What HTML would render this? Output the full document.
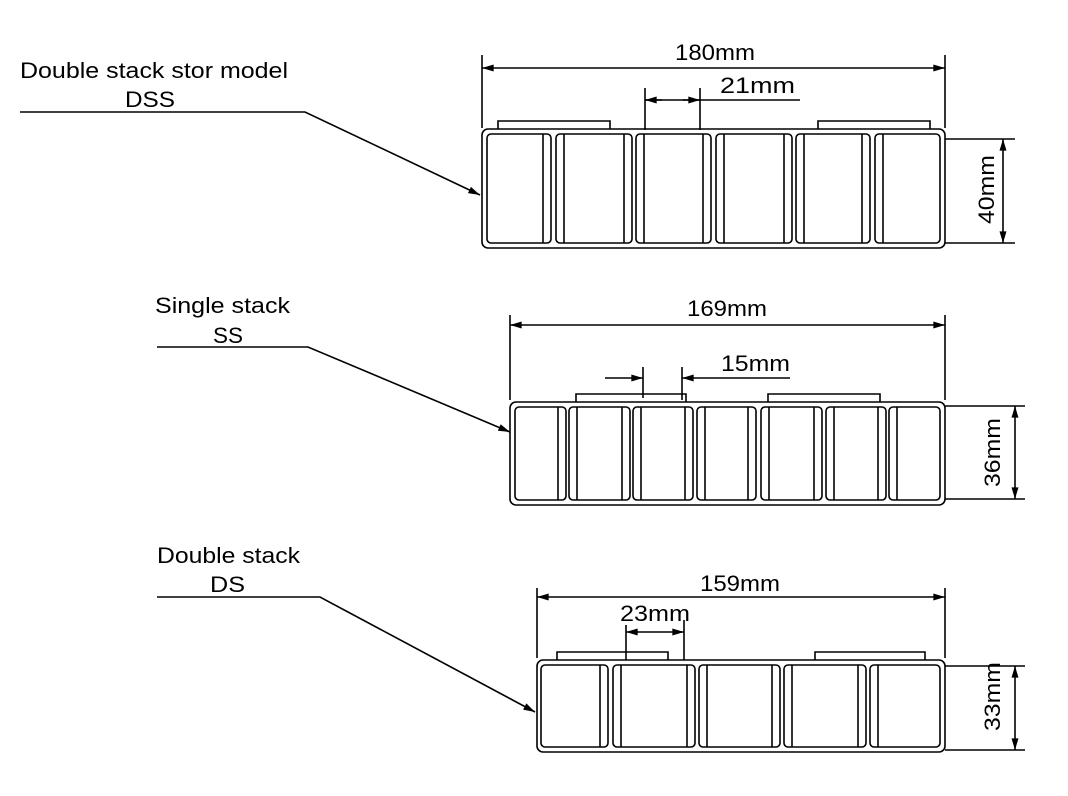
<!DOCTYPE html>
<html><head><meta charset="utf-8"><style>
html,body{margin:0;padding:0;background:#fff}
svg{display:block}
text{font-family:"Liberation Sans",sans-serif;fill:#000}
</style></head><body>
<svg id="s" width="1068" height="796" viewBox="0 0 1068 796" xmlns="http://www.w3.org/2000/svg">
<defs>
<marker id="a" viewBox="0 0 10 6" refX="10" refY="3" markerWidth="16" markerHeight="7" markerUnits="userSpaceOnUse" orient="auto-start-reverse"><path d="M0,0L10,3L0,6z" fill="#000"/></marker>
</defs>
<g stroke="#000" stroke-width="1.6" fill="none">
<polyline points="20,112 305,112 480,195" marker-end="url(#a)"/>
<polyline points="157,347 308,347 510,432" marker-end="url(#a)"/>
<polyline points="157,597 320,597 535,712" marker-end="url(#a)"/>
<line x1="482" y1="55" x2="482" y2="128"/><line x1="945" y1="55" x2="945" y2="128"/>
<line x1="482" y1="68" x2="945" y2="68" marker-start="url(#a)" marker-end="url(#a)"/>
<line x1="645" y1="88" x2="645" y2="130"/><line x1="700" y1="88" x2="700" y2="130"/>
<line x1="645" y1="100" x2="800" y2="100"/>
<line x1="662" y1="100" x2="645" y2="100" marker-end="url(#a)"/>
<line x1="683" y1="100" x2="700" y2="100" marker-end="url(#a)"/>
<line x1="945" y1="139" x2="1015" y2="139"/><line x1="945" y1="243" x2="1015" y2="243"/>
<line x1="1003" y1="139" x2="1003" y2="243" marker-start="url(#a)" marker-end="url(#a)"/>
<line x1="510" y1="315" x2="510" y2="400"/><line x1="945" y1="315" x2="945" y2="400"/>
<line x1="510" y1="325" x2="945" y2="325" marker-start="url(#a)" marker-end="url(#a)"/>
<line x1="643" y1="367" x2="643" y2="398"/><line x1="682" y1="367" x2="682" y2="400"/>
<line x1="605" y1="378" x2="643" y2="378" marker-end="url(#a)"/>
<line x1="790" y1="378" x2="682" y2="378" marker-end="url(#a)"/>
<line x1="945" y1="406" x2="1025" y2="406"/><line x1="945" y1="499" x2="1025" y2="499"/>
<line x1="1015" y1="406" x2="1015" y2="499" marker-start="url(#a)" marker-end="url(#a)"/>
<line x1="537" y1="588" x2="537" y2="658"/><line x1="945" y1="588" x2="945" y2="658"/>
<line x1="537" y1="597" x2="945" y2="597" marker-start="url(#a)" marker-end="url(#a)"/>
<line x1="626" y1="625" x2="626" y2="660"/><line x1="684" y1="620" x2="684" y2="660"/>
<line x1="626" y1="632" x2="684" y2="632" marker-start="url(#a)" marker-end="url(#a)"/>
<line x1="945" y1="666" x2="1025" y2="666"/><line x1="945" y1="750" x2="1025" y2="750"/>
<line x1="1015" y1="666" x2="1015" y2="750" marker-start="url(#a)" marker-end="url(#a)"/>
<g id="boxes"></g>
</g>
<g font-size="22">
<text x="20" y="78" textLength="268" lengthAdjust="spacingAndGlyphs">Double stack stor model</text>
<text x="125" y="107" textLength="50" lengthAdjust="spacingAndGlyphs">DSS</text>
<text x="155" y="313" textLength="135" lengthAdjust="spacingAndGlyphs">Single stack</text>
<text x="213" y="343" textLength="30" lengthAdjust="spacingAndGlyphs">SS</text>
<text x="157" y="563" textLength="143" lengthAdjust="spacingAndGlyphs">Double stack</text>
<text x="210" y="592" textLength="35" lengthAdjust="spacingAndGlyphs">DS</text>
<text x="675" y="60" textLength="80" lengthAdjust="spacingAndGlyphs">180mm</text>
<text x="720" y="93" textLength="75" lengthAdjust="spacingAndGlyphs">21mm</text>
<text x="687" y="316" textLength="80" lengthAdjust="spacingAndGlyphs">169mm</text>
<text x="721" y="371" textLength="69" lengthAdjust="spacingAndGlyphs">15mm</text>
<text x="700" y="591" textLength="80" lengthAdjust="spacingAndGlyphs">159mm</text>
<text x="620" y="621" textLength="70" lengthAdjust="spacingAndGlyphs">23mm</text>
<text transform="translate(994,224) rotate(-90)" textLength="69" lengthAdjust="spacingAndGlyphs">40mm</text>
<text transform="translate(1000,487) rotate(-90)" textLength="69" lengthAdjust="spacingAndGlyphs">36mm</text>
<text transform="translate(1000,731) rotate(-90)" textLength="69" lengthAdjust="spacingAndGlyphs">33mm</text>
</g>
</svg>
<script>
var g=document.getElementById('boxes'),ns='http://www.w3.org/2000/svg';
function el(t,a){var e=document.createElementNS(ns,t);for(var k in a)e.setAttribute(k,a[k]);g.appendChild(e);}
function box(x1,x2,y1,y2,cells,tabs){
 el('rect',{x:x1,y:y1,width:x2-x1,height:y2-y1,rx:6});
 tabs.forEach(function(t){el('polyline',{points:t[0]+','+y1+' '+t[0]+','+(y1-8)+' '+t[1]+','+(y1-8)+' '+t[1]+','+y1});});
 cells.forEach(function(c,i){
  var a=c[0],b=c[1],t=y1+5,h=y2-y1-10;
  el('rect',{x:a,y:t,width:b-a,height:h,rx:4});
  if(i>0)el('line',{x1:a+8,y1:t,x2:a+8,y2:t+h});
  if(i<cells.length-1)el('line',{x1:b-8,y1:t,x2:b-8,y2:t+h});
 });
}
box(482,945,129,248,[[487,551],[556,632],[636,711],[716,792],[796,870],[875,940]],[[498,610],[818,930]]);
box(510,945,402,505,[[515,566],[569,630],[633,693],[697,756],[761,822],[826,886],[889,940]],[[576,686],[768,880]]);
box(537,945,660,752,[[541,608],[613,695],[699,780],[784,866],[870,940]],[[557,668],[815,925]]);
</script>
</body></html>
